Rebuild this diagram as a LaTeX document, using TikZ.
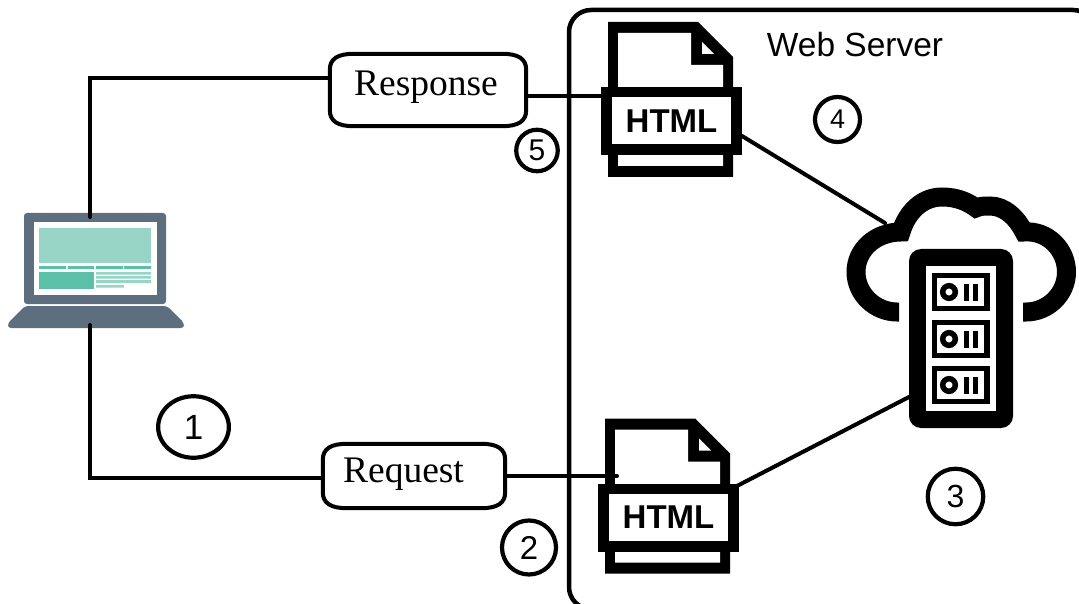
\documentclass[tikz,border=0pt]{standalone}
\usepackage{fontspec}
\setmainfont{Liberation Serif}
\newfontfamily\lsans{Liberation Sans}
\usetikzlibrary{calc}
\definecolor{lapgrey}{HTML}{5D6E7F}
\definecolor{lapteal}{HTML}{98D5C7}
\definecolor{lapgreen}{HTML}{5CBFA8}
\tikzset{
  wire/.style={line width=4pt,black,line cap=round},
  frameline/.style={line width=4.5pt,black,rounded corners=22pt},
  pillbox/.style={inner sep=0pt,font=\fontsize{37.5}{40}\selectfont,minimum width=#1},
  pilledge/.style={line width=4pt,black},
  numcircle/.style={draw=black,line width=4.2pt,circle,inner sep=0pt,font=\lsans\fontsize{#1}{#1}\selectfont},
  htmlband/.style={draw=black,fill=white,line width=10.5pt,minimum width=130pt,minimum height=57.5pt,inner sep=0pt,font=\lsans\bfseries\fontsize{33}{35}\selectfont},
}
\newcommand{\pillshape}[1]{%
  \draw[pilledge] ($(#1.north west)+(24,0)$) -- ($(#1.north east)+(-24,0)$)
    .. controls ($(#1.north east)+(-8,0)$) and ($(#1.north east)+(0,5)$) .. ($(#1.north east)+(0,16)$)
    -- ($(#1.south east)+(0,-16)$)
    .. controls ($(#1.south east)+(0,-5)$) and ($(#1.south east)+(-8,0)$) .. ($(#1.south east)+(-24,0)$)
    -- ($(#1.south west)+(24,0)$)
    .. controls ($(#1.south west)+(8,0)$) and ($(#1.south west)+(0,-5)$) .. ($(#1.south west)+(0,-16)$)
    -- ($(#1.north west)+(0,16)$)
    .. controls ($(#1.north west)+(0,5)$) and ($(#1.north west)+(8,0)$) .. cycle;}
\newcommand{\docpage}[3]{%
  \begin{scope}[shift={(#1,#2)}]
    \fill[black] (608,22) -- (698,22) -- (733,57) -- (733,177) -- (608,177) -- cycle;
    \fill[white] (618,33) -- (691,33) -- (691,65) -- (723,65) -- (723,166) -- (618,166) -- cycle;
    \fill[white] (702,42) -- (702,54) -- (714,54) -- cycle;
    \node[htmlband] (#3) at (671.5,121) {HTML};
  \end{scope}}
\newcommand{\servermodule}[1]{%
  \begin{scope}[shift={(0,#1)}]
    \fill[black] (932,273) rectangle (990,311);
    \fill[white] (937,278) rectangle (984,306);
    \draw[black,line width=5.5pt] (949,292) circle[radius=6.3pt];
    \fill[black] (964,284) rectangle (969,301);
    \fill[black] (973,284) rectangle (978,301);
  \end{scope}}
\begin{document}
\begin{tikzpicture}[x=1pt,y=-1pt]
\useasboundingbox (0,0) rectangle (1079,604);
\fill[white] (0,0) rectangle (1079,604);
\begin{scope}
  \clip (0,0) rectangle (1079,604);
  \draw[frameline] (1095,609) -- (569,609) -- (569,10) -- (1095,10) -- (1095,609);
\end{scope}
% laptop
\fill[lapgrey,rounded corners=3pt] (24,213) rectangle (166,304);
\fill[white] (34,222) rectangle (157,295);
\fill[lapteal] (39,228) rectangle (151,263);
\fill[lapgreen] (39,266) rectangle (66,269) (68,266) rectangle (94,269) (96,266) rectangle (123,269) (124,266) rectangle (151,269);
\fill[lapgreen] (39,272) rectangle (94,289);
\fill[lapteal] (96,272) rectangle (151,274.5) (96,276) rectangle (151,278.5) (96,280) rectangle (151,283) (96,285) rectangle (124,287.5);
\fill[lapgrey,rounded corners=3pt] (25,306) -- (167,306) -- (184,323) -- (184,328) -- (8,328) -- (8,323) -- cycle;
\coordinate (lapTop) at (90,217);
\coordinate (lapBottom) at (90,325);
% message boxes
\node[pillbox=196pt,text height=42pt,text depth=30pt] (response) at (428,90) {Response\hspace{4pt}\null};
\pillshape{response}
\node[pillbox=182pt,text height=38pt,text depth=26pt] (request) at (414,476) {Request\hspace{21pt}\null};
\pillshape{request}
% documents
\docpage{0}{0}{htmlTop}
\docpage{-3}{396.5}{htmlBottom}
% cloud
\draw[line width=19pt,black] (899,312) -- (897,312) .. controls (875,312) and (856,294) .. (856,272)
  .. controls (856,250) and (875,232) .. (901,232)
  .. controls (907,212) and (922,197) .. (942,197)
  .. controls (957,197) and (968,202) .. (976,208)
  .. controls (980,206) and (985,206) .. (990,206)
  .. controls (1005,206) and (1017,218) .. (1024,232)
  .. controls (1048,230) and (1066.5,250) .. (1066.5,272)
  .. controls (1066.5,294) and (1048,312) .. (1026,312) -- (1023,312);
% server
\node[fill=black,rounded corners=12pt,minimum width=104pt,minimum height=179pt,inner sep=0pt] (server) at (961,338.5) {};
\fill[white] (926,266) rectangle (996,411);
\servermodule{0}
\servermodule{47}
\servermodule{93}
\coordinate (cloudEdge) at (885,223);
\coordinate (serverEdge) at (909,397);
\coordinate (topDocOut) at (742,136);
\coordinate (bottomDocOut) at (735,487);
\coordinate (topDocIn) at (601,96);
\coordinate (bottomDocIn) at (617,476);
% connectors
\draw[wire] (lapTop) -- (90,78) -- ($(response.west)+(0,-12)$);
\draw[wire] (lapBottom) -- (90,478) -- ($(request.west)+(0,2)$);
\draw[wire] ($(response.east)+(0,6)$) -- (topDocIn);
\draw[wire] (request.east) -- (bottomDocIn);
\draw[wire] (topDocOut) -- (cloudEdge);
\draw[wire] (bottomDocOut) -- (serverEdge);
% labels
\node[font=\lsans\fontsize{33.5}{36}\selectfont,inner sep=0pt] (webserver) at (855,45) {Web Server};
\node[numcircle=35,minimum size=61.5pt,xscale=1.15] (n1) at (193.5,427) {\scalebox{0.87}[1]{1}};
\node[numcircle=33,minimum size=54pt] (n2) at (529,547.5) {2};
\node[numcircle=32,minimum size=55.5pt] (n3) at (955.5,496.5) {3};
\node[numcircle=27,minimum size=45pt] (n4) at (837.5,119.5) {4};
\node[numcircle=30,minimum size=41.5pt] (n5) at (537,150.5) {5};
\end{tikzpicture}
\end{document}
